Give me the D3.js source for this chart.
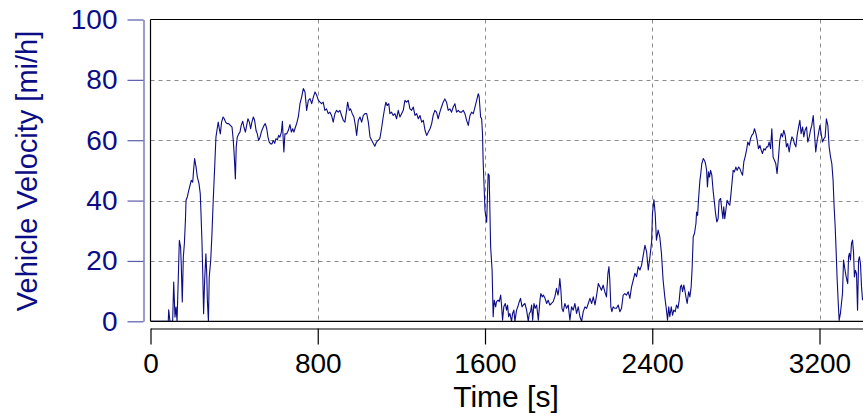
<!DOCTYPE html>
<html>
<head>
<meta charset="utf-8">
<script src="https://cdn.jsdelivr.net/npm/d3@7"></script>
<style>
  html, body { margin: 0; padding: 0; background: #ffffff; overflow: hidden; }
  svg { display: block; }
  text { font-family: "Liberation Sans", Arial, sans-serif; }
</style>
</head>
<body>
<div id="chart"></div>
<script>
// ---- data ----
const xTicks = [0, 800, 1600, 2400, 3200];
const yTicks = [0, 20, 40, 60, 80, 100];
const xLabel = "Time [s]";
const yLabel = "Vehicle Velocity [mi/h]";

const timeSec = [
  0,85,87,93,106,111,117,122,127,138,144,147,152,157,162,167,170,176,183,189,195,202,206,211,218,224,232,238,241,246,250,254,259,265,269,272,277,281,288,294,300,307,313,320,324,329,334,340,347,353,359,366,374,382,390,396,401,406,410,415,422,428,434,441,447,454,460,466,473,479,485,492,498,505,511,517,524,530,536,543,549,556,562,568,575,581,587,594,600,607,613,619,626,631,635,638,643,651,659,667,674,680,686,693,699,
  707,715,723,731,739,747,755,763,771,779,787,795,803,811,818,826,834,842,850,858,866,874,882,890,898,906,914,922,930,938,943,951,957,965,973,981,986,994,1002,1010,1018,1026,1034,1042,1050,1058,1066,1073,1081,1089,1097,1105,1113,1121,1126,1132,1140,1145,1153,1161,1169,1177,1185,1193,1201,1209,1217,1225,1233,1241,1249,1257,1265,1273,1281,1289,1297,1305,1313,1321,1329,1337,1345,1352,1360,1368,1376,1384,1392,1400,1408,1416,1424,1432,1440,1448,1456,1464,1472,1480,1488,1496,1504,1512,1520,1528,1536,1544,1552,1560,1568,1572,1579,1584,1588,
  1591,1600,1608,1615,1620,1627,1634,1639,1644,1651,1655,1663,1668,1675,1679,1684,1690,1697,1703,1708,1713,1719,1727,1732,1738,1743,1751,1757,1764,1770,1777,1783,1791,1799,1807,1812,1818,1823,1828,1834,1840,1847,1855,1863,1867,1874,1879,1887,1895,1902,1910,1918,1926,1934,1942,1949,1953,1958,1963,1968,1974,1982,1990,1998,2006,2014,2022,2030,2038,2046,2054,2062,2070,2078,2086,2094,2102,2110,2118,2126,2134,2142,2150,2157,2165,2173,2181,2188,2193,2197,2202,2207,2213,2221,2229,2237,2245,2253,2261,2269,2277,2285,2293,2301,2309,2317,2325,2333,2341,2349,2357,2365,2373,2381,2389,2397,2401,2408,2414,2420,2428,2436,2444,2452,2460,2468,2473,2479,2484,
  2491,2497,2503,2510,2516,2523,2529,2535,2540,2545,2551,2556,2561,2567,2574,2580,2586,2591,2596,2602,2609,2612,2617,2621,2628,2632,2637,2644,2650,2655,2660,2664,2669,2674,2679,2685,2691,2698,2703,2709,2715,2720,2727,2733,2738,2742,2747,2752,2758,2765,2771,2776,2781,2787,2793,2800,2806,2813,2819,2825,2832,2838,2844,2851,2857,2864,2870,2876,2883,2889,2896,2902,2908,2915,2921,2927,2934,2940,2947,2953,2959,2966,2972,2978,2985,2991,2997,3004,3010,3017,3023,3029,3036,3042,3048,3055,3061,3068,3074,3080,3087,3093,3100,3106,3112,3119,3125,3131,3138,3144,3151,3157,3163,3170,3176,3182,3189,3195,3202,3208,3214,3221,3227,3233,3240,3246,3253,3259,3265,3270,3275,3280,3284,3289,3294,3300,3305,3310,3315,3321,3326,3331,3335,3339,3343,3348,3353,3358,3363,3367,3372,3377,3382,3387,3391,3396,3401,3406
];

const velocityMph = [
  0,0,3.8,0,0,13,1.4,4.7,0,26.8,24.6,19,6.4,21.3,25.7,33.4,40.1,41.2,43.4,45,46.7,46.1,50,53.9,51.1,47.8,45.6,42.3,36.8,26.8,15.8,2.5,13.6,22.4,15.8,7,0,14.7,20.2,29,40,51.1,61,64.3,66,63.8,62.1,66,67.7,67.1,66,65.5,65.5,64.9,64.3,59.9,54.4,47.2,57.7,61,62.1,62.7,64.9,66.3,64.3,62.7,64.9,67.1,66,63.8,66,67.7,66.6,63.2,62.1,59.9,61,62.7,63.8,64.9,65.5,63.8,61,59.4,58.8,58.8,59.9,59,60.5,60.1,61.6,61,62.7,66.3,59.9,56.1,62.1,62.1,63.2,65.2,62.7,63.8,62.7,64.3,65.5,
  67.7,72.1,74.3,77.1,76,69.9,73.2,73.8,72.1,74.3,76,74.9,73.2,72.6,72.1,72.6,69.9,70.4,68.8,69.3,68.2,66,68.8,69.9,69.3,69.9,68.2,66.6,66,69.9,72.6,69.9,70.4,68.8,67.7,64.4,61.6,66.6,67.7,66,68.2,68.8,68.8,66,61.1,60,58.9,58,59.4,60,60.5,63.8,67.7,71,72.6,71.5,72.1,68.8,69.3,68.2,68.8,67.1,69.9,67.7,68.8,69.9,73.2,72.6,73.2,70.4,69.9,71,68.2,68.8,67.1,68.2,66,66.6,63.3,61.6,62.7,63.8,65.5,68.2,69.9,69.3,67.1,69.3,71,72.6,73.7,72.6,69.9,70.4,69.3,71,72.1,69.3,69.9,69.3,69.3,69.9,68.8,66.6,64.9,68.2,69.3,68.8,71,73.2,75.4,74.5,67.7,67.1,62.2,
  53.3,36.7,32.8,48.9,48.3,24.6,16.9,1.5,7,4.8,6.5,7,6.5,8.7,5.4,0.4,4.8,5.9,3.7,5.4,1.5,2.6,0,2.6,3.7,0,3.7,4.8,6.5,7.6,4.8,5.4,5.9,3.7,0,2.6,3.2,5.4,0.4,5.9,4.3,5.4,0.4,7,9.2,8.1,8.7,7.6,5.9,7,5.4,5.9,6.5,8.1,10.9,8.7,10.3,14.2,10.3,4.3,3.2,5.9,4.3,5.4,0.4,4.8,3.7,5.9,2.6,4.8,1.5,0,3.2,4.8,4.3,5.9,7.6,5.9,8.1,5.4,8.7,12.5,11.4,10.3,12,9.8,8.1,15.9,18.1,13.6,4.8,3.2,4.8,4.3,4.3,5.4,3.2,4.3,8.7,9.2,8.7,9.8,7.6,11.4,13.6,15.9,14.8,18.1,17,18.6,21.9,25.2,23,17,21.4,26.3,35.7,40.3,35.7,26.9,30.2,28,22.5,13.6,8.1,3.7,0.4,4.8,1.5,
  4.8,2,3.7,3.2,5.4,4.3,7,11.4,12,9.8,12,10.3,8.1,5.9,9.8,8.1,11.4,18,28,29.1,32.4,36.2,35.1,40.1,46.7,48.9,52.2,53.9,53.3,52.2,50,44.5,49.5,47.8,50,48.4,43.4,39,35.7,32.9,34,40.1,40.7,36.8,34,37.9,34,36.8,40.1,39,38.5,41.8,45.6,50,49.5,51.1,50,51.1,50.6,49.5,48.4,52.8,54.4,56.7,59.4,58.3,60.5,61.6,62.2,63.8,62.2,60,57.2,58.3,56.7,55.6,57.2,56.7,57.8,57.8,59.4,57.2,63.8,54.4,53.3,52.2,48.9,54.4,60,62.2,61.1,63.3,61.6,57.8,58.9,56.1,58.9,61.1,60.5,58.9,57.8,61.6,64.4,66.6,62.2,64.4,61.1,63.3,64.4,59.4,61.1,63.3,64.9,68.2,62.2,56.1,60,62.2,64.9,62.2,59.4,60.5,61.1,67.1,64.9,57.8,54.4,52.2,46.7,37.9,31.3,22.5,14.7,7,0.3,2.6,5.9,9.2,20.3,17.5,15.3,13.6,12.5,21.4,22.5,20.3,25.8,26.9,22.5,14.7,16.9,15.8,3.7,20.3,21.4,19.1,11.4,7
];

const data = timeSec.map((t, i) => ({ t, v: velocityMph[i] }));

// ---- layout ----
const W = 863, H = 417;
const plotLeft = 150.5, plotTop = 19.5, plotBottom = 321.3;
const pxPer800 = 167.25;
const xMax = 3600;
const navy = "#0c0c86";
const fontStack = "'Liberation Sans', Arial, sans-serif";

const svg = d3.select("#chart").append("svg")
  .attr("width", W).attr("height", H);

const x = d3.scaleLinear().domain([0, xMax]).range([plotLeft, plotLeft + pxPer800 * xMax / 800]);
const y = d3.scaleLinear().domain([0, 100]).range([plotBottom, plotTop]);

svg.append("defs").append("clipPath").attr("id", "plotClip")
  .append("rect").attr("x", plotLeft).attr("y", plotTop - 1)
  .attr("width", W - plotLeft).attr("height", plotBottom - plotTop + 1);

// grid lines
const grid = svg.append("g");
grid.selectAll("line.hg").data(yTicks.filter(d => d > 0 && d < 100)).enter().append("line")
  .attr("x1", plotLeft).attr("x2", W)
  .attr("y1", d => Math.round(y(d)) + 0.5).attr("y2", d => Math.round(y(d)) + 0.5)
  .attr("stroke", "#8c8c8c").attr("stroke-width", 1).attr("stroke-dasharray", "4,4");
grid.selectAll("line.vg").data(xTicks.filter(d => d > 0)).enter().append("line")
  .attr("x1", d => Math.round(x(d)) + 0.5).attr("x2", d => Math.round(x(d)) + 0.5)
  .attr("y1", plotTop).attr("y2", plotBottom)
  .attr("stroke", "#8c8c8c").attr("stroke-width", 1).attr("stroke-dasharray", "4,4");

// data line
const line = d3.line().x(d => x(d.t)).y(d => y(d.v));
svg.append("path").datum(data)
  .attr("clip-path", "url(#plotClip)")
  .attr("d", line)
  .attr("fill", "none")
  .attr("stroke", navy)
  .attr("stroke-width", 1.1)
  .attr("stroke-linejoin", "round");

// plot frame (left, top, bottom)
const frame = svg.append("g").attr("stroke", "#000").attr("stroke-width", 1.2).attr("fill", "none");
frame.append("line").attr("x1", plotLeft).attr("x2", plotLeft).attr("y1", plotTop).attr("y2", plotBottom);
frame.append("line").attr("x1", plotLeft).attr("x2", W).attr("y1", plotTop).attr("y2", plotTop);
frame.append("line").attr("x1", plotLeft).attr("x2", W).attr("y1", plotBottom).attr("y2", plotBottom);

// y axis (offset to the left)
const yAxisX = 143.5;
const yAxis = d3.axisLeft(y).tickValues(yTicks).tickFormat(d3.format("d"))
  .tickSize(16).tickPadding(10).tickSizeOuter(0);
const gy = svg.append("g").attr("transform", `translate(${yAxisX},0)`).call(yAxis);
gy.select(".domain").attr("stroke", "#5b5bab").attr("stroke-width", 1.2);
gy.selectAll(".tick line").attr("stroke", "#5b5bab").attr("stroke-width", 1.2);
gy.selectAll(".tick text").attr("fill", navy).style("font-size", "28px").style("font-family", fontStack);

// x axis (offset below)
const xAxisY = 328.5;
const xAxis = d3.axisBottom(x).tickValues(xTicks).tickFormat(d3.format("d"))
  .tickSize(16).tickPadding(9).tickSizeOuter(0);
const gx = svg.append("g").attr("transform", `translate(0,${xAxisY})`).call(xAxis);
gx.select(".domain").attr("stroke", "#000").attr("stroke-width", 1.2);
gx.selectAll(".tick line").attr("stroke", "#000").attr("stroke-width", 1.2);
gx.selectAll(".tick text").attr("fill", "#000").style("font-size", "28px").style("font-family", fontStack);

// axis titles
svg.append("text").attr("x", 506).attr("y", 407)
  .attr("text-anchor", "middle").attr("fill", "#000")
  .style("font-size", "30px").style("font-family", fontStack).text(xLabel);

svg.append("text")
  .attr("transform", `translate(37,171) rotate(-90)`)
  .attr("text-anchor", "middle").attr("fill", navy)
  .style("font-size", "29px").style("font-family", fontStack).text(yLabel);
</script>
</body>
</html>
